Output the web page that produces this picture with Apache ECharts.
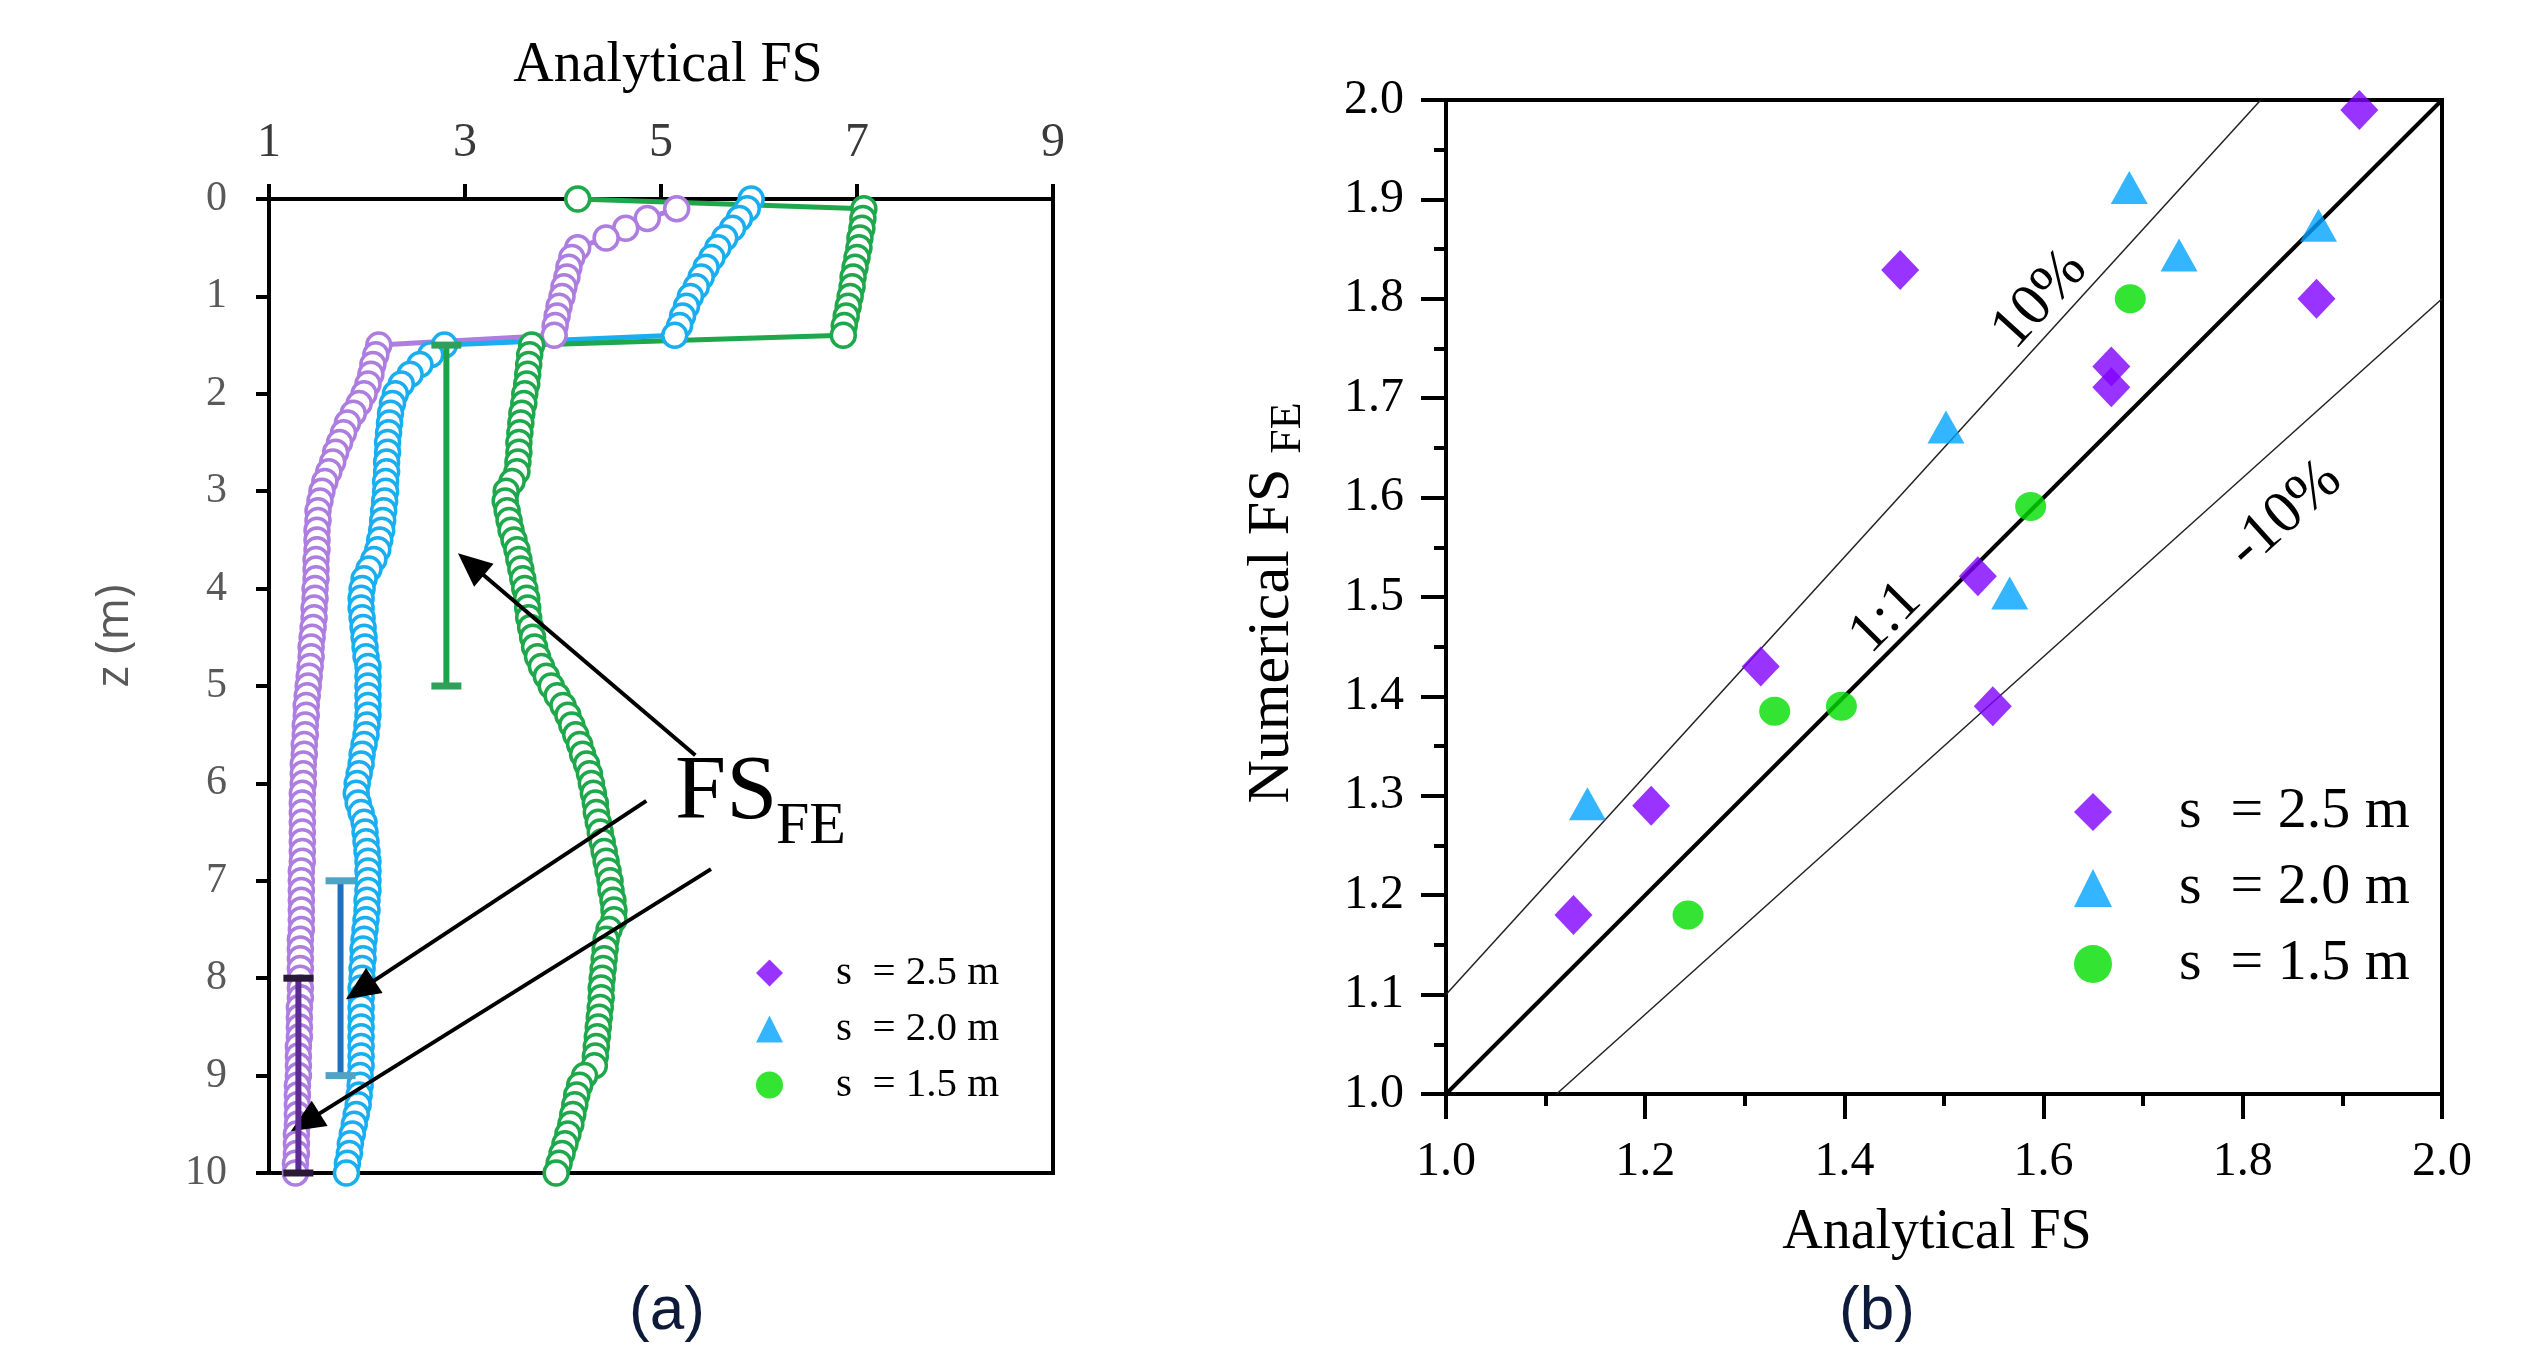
<!DOCTYPE html>
<html><head><meta charset="utf-8">
<script src="https://cdn.jsdelivr.net/npm/echarts@6.0.0/dist/echarts.min.js"></script>
<style>html,body{margin:0;padding:0;background:#fff}#c{width:2525px;height:1347px}</style>
</head><body><div id="c"></div>
<script>
// ---------- (a) profiles: depth z (m) and analytical FS ----------
const depth = [0,0.1,0.2,0.3,0.4,0.5,0.6,0.7,0.8,0.9,
 1,1.1,1.2,1.3,1.4,1.5,1.6,1.7,1.8,1.9,
 2,2.1,2.2,2.3,2.4,2.5,2.6,2.7,2.8,2.9,
 3,3.1,3.2,3.3,3.4,3.5,3.6,3.7,3.8,3.9,
 4,4.1,4.2,4.3,4.4,4.5,4.6,4.7,4.8,4.9,
 5,5.1,5.2,5.3,5.4,5.5,5.6,5.7,5.8,5.9,
 6,6.1,6.2,6.3,6.4,6.5,6.6,6.7,6.8,6.9,
 7,7.1,7.2,7.3,7.4,7.5,7.6,7.7,7.8,7.9,
 8,8.1,8.2,8.3,8.4,8.5,8.6,8.7,8.8,8.9,
 9,9.1,9.2,9.3,9.4,9.5,9.6,9.7,9.8,9.9,
 10];
const fsPurple = [null,5.16,4.86,4.64,4.44,4.15,4.09,4.06,4.04,4.01,
 3.99,3.96,3.94,3.92,3.91,2.12,2.09,2.06,2.04,2.01,
 1.97,1.92,1.86,1.80,1.76,1.72,1.68,1.65,1.61,1.57,
 1.54,1.52,1.50,1.50,1.49,1.49,1.49,1.48,1.48,1.48,
 1.47,1.47,1.46,1.46,1.45,1.44,1.43,1.43,1.42,1.41,
 1.40,1.39,1.38,1.38,1.37,1.37,1.36,1.36,1.35,1.35,
 1.35,1.34,1.34,1.34,1.34,1.34,1.34,1.34,1.34,1.33,
 1.33,1.33,1.33,1.33,1.33,1.33,1.32,1.32,1.32,1.32,
 1.32,1.32,1.32,1.31,1.31,1.31,1.31,1.30,1.30,1.30,
 1.30,1.29,1.29,1.29,1.29,1.29,1.28,1.28,1.28,1.27,
 1.27];
const fsBlue = [5.92,5.88,5.80,5.73,5.65,5.58,5.52,5.46,5.41,5.36,
 5.30,5.26,5.22,5.19,5.14,2.79,2.65,2.54,2.44,2.35,
 2.29,2.26,2.24,2.23,2.22,2.21,2.21,2.20,2.20,2.19,
 2.19,2.18,2.17,2.16,2.15,2.13,2.11,2.07,2.02,1.97,
 1.95,1.94,1.94,1.95,1.96,1.97,1.98,1.99,2.01,2.01,
 2.01,2.01,2.01,2.01,2.00,1.99,1.97,1.95,1.94,1.92,
 1.90,1.89,1.91,1.94,1.97,1.98,1.99,2.00,2.01,2.01,
 2.01,2.01,2.00,2.00,1.99,1.98,1.97,1.96,1.96,1.95,
 1.95,1.94,1.94,1.94,1.94,1.94,1.94,1.94,1.94,1.94,
 1.93,1.93,1.92,1.91,1.89,1.87,1.85,1.83,1.82,1.80,
 1.79];
const fsGreen = [4.15,7.07,7.06,7.05,7.03,7.02,7.00,6.98,6.96,6.95,
 6.93,6.91,6.89,6.87,6.86,3.68,3.66,3.65,3.64,3.63,
 3.61,3.60,3.58,3.57,3.56,3.55,3.55,3.54,3.53,3.48,
 3.42,3.41,3.43,3.45,3.47,3.50,3.53,3.55,3.57,3.59,
 3.61,3.63,3.64,3.65,3.67,3.69,3.71,3.74,3.78,3.83,
 3.88,3.94,4.00,4.05,4.09,4.13,4.17,4.20,4.24,4.27,
 4.29,4.31,4.33,4.34,4.36,4.38,4.40,4.42,4.44,4.46,
 4.48,4.49,4.51,4.52,4.52,4.47,4.44,4.43,4.42,4.41,
 4.40,4.39,4.39,4.38,4.37,4.36,4.35,4.34,4.33,4.32,
 4.22,4.17,4.14,4.12,4.10,4.08,4.05,4.02,3.99,3.96,
 3.93];
// FS_FE range bars in (a): FS value, top depth, bottom depth
const barFs = [2.81, 1.73, 1.30];
const barTop = [1.5, 7.0, 8.0];
const barBottom = [5.0, 9.0, 10.0];
// annotation arrows in (a) (FS, z)
const arrowStartFs = [5.35, 4.85, 5.51];
const arrowStartZ = [5.71, 6.18, 6.88];
const arrowEndFs = [3.06, 1.93, 1.37];
const arrowEndZ = [3.75, 8.12, 9.48];
// ---------- (b) analytical vs numerical ----------
const names = ['s  = 2.5 m', 's  = 2.0 m', 's  = 1.5 m'];
const s25x = [1.917,1.456,1.874,1.668,1.668,1.534,1.316,1.549,1.206,1.128];
const s25y = [1.990,1.829,1.800,1.732,1.711,1.521,1.430,1.390,1.290,1.180];
const s20x = [1.686,1.876,1.736,1.502,1.566,1.142];
const s20y = [1.912,1.874,1.844,1.671,1.504,1.292];
const s15x = [1.687,1.587,1.330,1.397,1.243];
const s15y = [1.800,1.591,1.385,1.390,1.180];
const line11 = [[1,1],[2,2]];
const linePlus10 = [[1,1.1],[1.818,2]];
const lineMinus10 = [[1.111,1],[2,1.8]];

const SERIF = "'Liberation Serif','Times New Roman',serif";
const SANS = "'Liberation Sans',Arial,sans-serif";
const cPurple = '#ad7ddf', cBlue = '#19aef0', cGreen = '#1ea84b';
const barLineColor = ['#1ea34a','#1e70c0','#5b2a92'];
const barCapColor = ['#2f9f5a','#4fa3c4','#2a1838'];

const pair = fs => depth.map((z,i)=>[fs[i], z]).filter(p=>p[0]!==null);
const profile = (name, fs, color) => ({
  name, type:'line', xAxisIndex:0, yAxisIndex:0, data: pair(fs),
  symbol:'circle', symbolSize:24, showAllSymbol:true, silent:true,
  itemStyle:{color:'#fff', borderColor:color, borderWidth:3.5},
  lineStyle:{color, width:5}, z:2, animation:false
});
const txt = (x,y,text,size,fam,color,rot) => ({
  type:'text', x, y, rotation: rot||0, z:50,
  style:{text, fontSize:size, fontFamily:fam, fill:color,
    align:'center', verticalAlign:'middle', textAlign:'center', textVerticalAlign:'middle'}
});

const chart = echarts.init(document.getElementById('c'), null, {width:2525, height:1347});
const axisBase = {
  type:'value', splitLine:{show:false},
  axisLine:{show:true, onZero:false, lineStyle:{color:'#000', width:4}},
  axisTick:{show:true, lineStyle:{color:'#000', width:4}}
};
chart.setOption({
  animation:false,
  backgroundColor:'#fff',
  grid:[
    {left:269, top:199, width:784, height:974, show:true, borderColor:'#000', borderWidth:4, backgroundColor:'transparent', containLabel:false, outerBoundsMode:'none'},
    {left:1446, top:100, width:996, height:994, show:true, borderColor:'#000', borderWidth:4, backgroundColor:'transparent', containLabel:false, outerBoundsMode:'none'}
  ],
  xAxis:[
    Object.assign({}, axisBase, {gridIndex:0, position:'top', min:1, max:9, interval:2,
      axisTick:{show:true, length:15, lineStyle:{color:'#000', width:4}},
      axisLabel:{fontSize:48, fontFamily:SERIF, color:'#3a3a3a', margin:32, showMinLabel:true, showMaxLabel:true}}),
    Object.assign({}, axisBase, {gridIndex:1, position:'bottom', min:1, max:2, interval:0.2,
      axisTick:{show:true, length:25, lineStyle:{color:'#000', width:4}},
      minorTick:{show:true, splitNumber:2, length:12, lineStyle:{color:'#000', width:4}},
      minorSplitLine:{show:false},
      axisLabel:{fontSize:48, fontFamily:SERIF, color:'#000', margin:44, showMinLabel:true, showMaxLabel:true,
        formatter:v=>v.toFixed(1)}})
  ],
  yAxis:[
    Object.assign({}, axisBase, {gridIndex:0, inverse:true, min:0, max:10, interval:1,
      axisTick:{show:true, length:13, lineStyle:{color:'#000', width:4}},
      axisLabel:{fontSize:42, fontFamily:SERIF, color:'#595959', margin:42, showMinLabel:true, showMaxLabel:true}}),
    Object.assign({}, axisBase, {gridIndex:1, min:1, max:2, interval:0.1,
      axisTick:{show:true, length:25, lineStyle:{color:'#000', width:4}},
      minorTick:{show:true, splitNumber:2, length:12, lineStyle:{color:'#000', width:4}},
      minorSplitLine:{show:false},
      axisLabel:{fontSize:48, fontFamily:SERIF, color:'#000', margin:42, showMinLabel:true, showMaxLabel:true,
        formatter:v=>v.toFixed(1)}})
  ],
  legend:[
    {orient:'vertical', left:756, top:945, padding:0, itemGap:0, itemWidth:27, itemHeight:27, selectedMode:false,
     data:[{name:names[0], icon:'diamond'},{name:names[1], icon:'triangle'},{name:names[2], icon:'circle'}],
     textStyle:{fontFamily:SERIF, fontSize:41, color:'#000', lineHeight:56, padding:[0,0,0,48]}},
    {orient:'vertical', left:2074, top:774, padding:0, itemGap:0, itemWidth:38, itemHeight:38, selectedMode:false,
     data:[{name:names[0], icon:'diamond'},{name:names[1], icon:'triangle'},{name:names[2], icon:'circle'}],
     textStyle:{fontFamily:SERIF, fontSize:58, color:'#000', lineHeight:76, padding:[0,0,0,62]}}
  ],
  series:[
    profile('purple profile', fsPurple, cPurple),
    profile('blue profile', fsBlue, cBlue),
    profile('green profile', fsGreen, cGreen),
    {type:'custom', name:'FS_FE range', xAxisIndex:0, yAxisIndex:0, z:5, silent:true, clip:false,
     data: barFs.map((v,i)=>[v, barTop[i], barBottom[i], i]),
     renderItem(params, api){
       const i = api.value(3);
       const a = api.coord([api.value(0), api.value(1)]);
       const b = api.coord([api.value(0), api.value(2)]);
       const h = 15;
       return {type:'group', children:[
         {type:'line', shape:{x1:a[0],y1:a[1],x2:b[0],y2:b[1]}, style:{stroke:barLineColor[i], lineWidth:6}},
         {type:'line', shape:{x1:a[0]-h,y1:a[1],x2:a[0]+h,y2:a[1]}, style:{stroke:barCapColor[i], lineWidth:7}},
         {type:'line', shape:{x1:b[0]-h,y1:b[1],x2:b[0]+h,y2:b[1]}, style:{stroke:barCapColor[i], lineWidth:7}}
       ]};
     }},
    {type:'line', name:'arrows', xAxisIndex:0, yAxisIndex:0, data:[], z:8, silent:true,
     markLine:{silent:true, symbol:['none','triangle'], symbolSize:[30,34], label:{show:false},
       lineStyle:{color:'#000', width:4, type:'solid'}, emphasis:{disabled:true}, animation:false,
       data: arrowStartFs.map((v,i)=>[{coord:[v, arrowStartZ[i]]},{coord:[arrowEndFs[i], arrowEndZ[i]]}])}},
    {type:'line', name:'1:1', xAxisIndex:1, yAxisIndex:1, data:line11, symbol:'none', silent:true,
     lineStyle:{color:'#000', width:4}, z:3},
    {type:'line', name:'+10%', xAxisIndex:1, yAxisIndex:1, data:linePlus10, symbol:'none', silent:true,
     lineStyle:{color:'#222', width:1.5}, z:3},
    {type:'line', name:'-10%', xAxisIndex:1, yAxisIndex:1, data:lineMinus10, symbol:'none', silent:true,
     lineStyle:{color:'#222', width:1.5}, z:3},
    {name:names[0], type:'scatter', xAxisIndex:1, yAxisIndex:1, data:s25x.map((x,i)=>[x,s25y[i]]),
     symbol:'diamond', symbolSize:[38,40], itemStyle:{color:'#7f00ff'}, z:6},
    {name:names[1], type:'scatter', xAxisIndex:1, yAxisIndex:1, data:s20x.map((x,i)=>[x,s20y[i]]),
     symbol:'triangle', symbolSize:[37,33], itemStyle:{color:'#00a2ff'}, z:6},
    {name:names[2], type:'scatter', xAxisIndex:1, yAxisIndex:1, data:s15x.map((x,i)=>[x,s15y[i]]),
     symbol:'circle', symbolSize:[31,29], itemStyle:{color:'#00dd00'}, z:6}
  ],
  graphic:[
    txt(668, 66, 'Analytical FS', 56, SERIF, '#000'),
    txt(115, 636, 'z (m)', 46, "'Open Sans','Noto Sans',sans-serif", '#595959', Math.PI/2),
    {type:'text', x:675, y:794, z:50, style:{text:'FS', fontSize:92, fontFamily:SERIF, fill:'#000', align:'left', verticalAlign:'middle', textAlign:'left', textVerticalAlign:'middle'}},
    {type:'text', x:776, y:827, z:50, style:{text:'FE', fontSize:60, fontFamily:SERIF, fill:'#000', align:'left', verticalAlign:'middle', textAlign:'left', textVerticalAlign:'middle'}},
    txt(667, 1312, '(a)', 62, SANS, '#0e1a3a'),
    txt(1877, 1312, '(b)', 62, SANS, '#0e1a3a'),
    txt(1937, 1233, 'Analytical FS', 56, SERIF, '#000'),
    {type:'group', x:1272, y:636, rotation:Math.PI/2, z:50, children:[
      {type:'text', x:0, y:0, style:{text:'Numerical FS', fontSize:60, fontFamily:SERIF, fill:'#000', align:'center', verticalAlign:'middle', textAlign:'center', textVerticalAlign:'middle'}},
      {type:'text', x:208, y:16, style:{text:'FE', fontSize:44, fontFamily:SERIF, fill:'#000', align:'center', verticalAlign:'middle', textAlign:'center', textVerticalAlign:'middle'}}
    ]},
    txt(2040, 300, '10%', 60, SERIF, '#000', 47.7*Math.PI/180),
    txt(2285, 515, '-10%', 60, SERIF, '#000', 41.9*Math.PI/180),
    txt(1886, 618, '1:1', 58, SERIF, '#000', Math.PI/4)
  ]
});
</script>
</body></html>
